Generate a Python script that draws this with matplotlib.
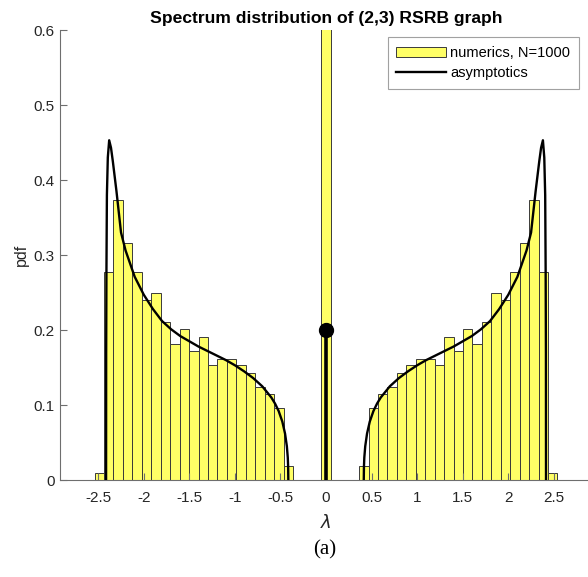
import numpy as np
import matplotlib
matplotlib.use("Agg")
import matplotlib.pyplot as plt
from matplotlib.patches import Patch
from matplotlib.lines import Line2D

# ---------------- data ----------------
title = "Spectrum distribution of (2,3) RSRB graph"
legend_labels = ["numerics, N=1000", "asymptotics"]

# histogram: 49 equal bins over [hist_lo, hist_hi]
hist_lo, hist_hi, n_bins = -2.54, 2.54, 49
left_heights = [0.009, 0.278, 0.374, 0.316, 0.278, 0.240, 0.249, 0.211,
                0.182, 0.201, 0.172, 0.191, 0.153, 0.162, 0.162, 0.153,
                0.143, 0.124, 0.115, 0.096, 0.019]
gap_heights = [0.0, 0.0, 0.0]
zero_bin_height = 1.93
right_heights = [0.019, 0.096, 0.115, 0.124, 0.143, 0.153, 0.162, 0.162,
                 0.153, 0.191, 0.172, 0.201, 0.182, 0.211, 0.249, 0.240,
                 0.278, 0.316, 0.374, 0.278, 0.009]

# asymptotic density (positive side; spectrum is symmetric)
curve_lam = [0.414, 0.416, 0.42, 0.43, 0.45, 0.48, 0.52, 0.56, 0.60, 0.70, 0.80,
             0.90, 1.00, 1.10, 1.20, 1.30, 1.40, 1.50, 1.60, 1.70, 1.80,
             1.90, 2.00, 2.10, 2.20, 2.25, 2.30, 2.34, 2.36, 2.38, 2.395,
             2.405, 2.41, 2.413, 2.414]
curve_pdf = [0.0, 0.018, 0.030, 0.045, 0.062, 0.078, 0.092, 0.102, 0.110, 0.125, 0.136,
             0.145, 0.153, 0.160, 0.166, 0.172, 0.178, 0.185, 0.192, 0.201, 0.212,
             0.228, 0.247, 0.271, 0.306, 0.330, 0.385, 0.425, 0.443, 0.453, 0.430,
             0.380, 0.280, 0.170, 0.0]

# point mass at zero
delta_pos = 0.0
delta_mass = 0.2

xticks = [-2.5, -2, -1.5, -1, -0.5, 0, 0.5, 1, 1.5, 2, 2.5]
xticklabels = ["-2.5", "-2", "-1.5", "-1", "-0.5", "0", "0.5", "1", "1.5", "2", "2.5"]
yticks = [0, 0.1, 0.2, 0.3, 0.4, 0.5, 0.6]
yticklabels = ["0", "0.1", "0.2", "0.3", "0.4", "0.5", "0.6"]

# ---------------- plot ----------------
plt.rcParams['font.family'] = ['Liberation Sans', 'DejaVu Sans']

fig = plt.figure(figsize=(5.88, 5.77), dpi=100)
ax = fig.add_axes([0.102, 0.168, 0.905, 0.780])

heights = np.array(left_heights + gap_heights + [zero_bin_height] + gap_heights + right_heights)
edges = np.linspace(hist_lo, hist_hi, n_bins + 1)
centers = 0.5 * (edges[:-1] + edges[1:])
bw = edges[1] - edges[0]
mask = heights > 0
bar_face = '#FFFF66'
bar_edge = '#3a3a3a'
ax.bar(centers[mask], heights[mask], width=bw, align='center',
       color=bar_face, edgecolor=bar_edge, linewidth=0.7, zorder=1)

lam = np.array(curve_lam)
pdf = np.array(curve_pdf)
ax.plot(lam, pdf, color='black', lw=1.7, zorder=3)
ax.plot(-lam, pdf, color='black', lw=1.7, zorder=3)

ax.plot([delta_pos, delta_pos], [0, delta_mass], color='black', lw=2.6, zorder=3,
        solid_capstyle='butt')
ax.plot([delta_pos], [delta_mass], 'o', color='black', markersize=10, zorder=4)

ax.set_xlim(-2.92, 2.92)
ax.set_ylim(0, 0.6)
ax.set_xticks(xticks)
ax.set_xticklabels(xticklabels)
ax.set_yticks(yticks)
ax.set_yticklabels(yticklabels)

axis_col = '#6e6e6e'
for s in ['top', 'right']:
    ax.spines[s].set_visible(False)
for s in ['left', 'bottom']:
    ax.spines[s].set_color(axis_col)
    ax.spines[s].set_linewidth(0.8)
ax.tick_params(direction='in', length=5, width=0.8, color=axis_col,
               labelsize=11, labelcolor='#262626')
ax.tick_params(axis='x', pad=8)
ax.tick_params(axis='y', pad=4)

ax.set_title(title, fontsize=12.6, fontweight='bold', pad=5, color='black')
ax.set_xlabel(r'$\lambda$', fontsize=13, color='#262626', labelpad=6)
ax.set_ylabel('pdf', fontsize=11.5, color='#262626', labelpad=3)

handles = [Patch(facecolor=bar_face, edgecolor=bar_edge, linewidth=0.7),
           Line2D([0], [0], color='black', lw=1.7)]
leg = ax.legend(handles, legend_labels, loc='upper right',
                bbox_to_anchor=(0.9756, 0.9844), fontsize=10.5,
                frameon=True, fancybox=False, handlelength=3.4,
                borderaxespad=0.0, borderpad=0.6, labelspacing=0.45,
                handletextpad=0.3)
leg.get_frame().set_edgecolor('#8a8a8a')
leg.get_frame().set_linewidth(0.8)

fig.text(0.552, 0.047, '(a)', fontsize=15, ha='center', va='center',
         family=['Liberation Serif', 'DejaVu Serif'])

fig.savefig('out.png', dpi=100)
